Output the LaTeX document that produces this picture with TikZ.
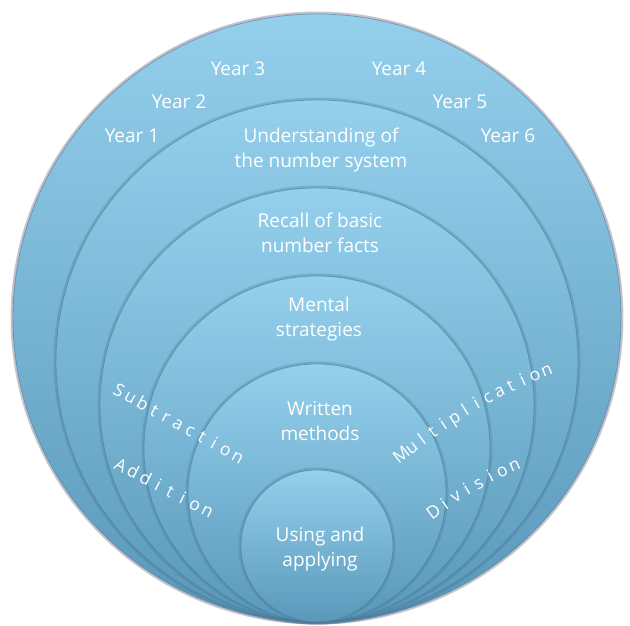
\documentclass[tikz,border=0pt]{standalone}
\usepackage{fontspec}
\setmainfont{Open Sans}
\usetikzlibrary{calc}

\definecolor{ringtop}{RGB}{148,208,236}
\definecolor{ringbot}{RGB}{90,152,186}
\definecolor{ringedge}{RGB}{70,118,148}

\begin{document}
\begin{tikzpicture}[x=1pt, y=1pt,
    ringtext/.style={text=white, align=center, font=\fontsize{19}{25}\selectfont},
    yeartext/.style={text=white, font=\fontsize{19}{25}\selectfont},
    arcletter/.style={text=white, inner sep=0pt, anchor=base, font=\fontsize{17.5}{17}\selectfont}]

    \useasboundingbox (0,0) rectangle (630,626);

    % Soft glow round the outer ring
    \draw[red!12, line width=4pt] (317,308) circle (304);

    % Nested rings, all touching at the bottom
    \foreach \r in {304,261,217,173,129,76} {
        \draw[ringedge, opacity=0.3, line width=3pt] (317,4+\r) circle (\r+1);
        \shade[top color=ringtop, bottom color=ringbot] (317,4+\r) circle (\r);
        \draw[ringedge, line width=0.8pt, opacity=0.55] (317,4+\r) circle (\r);
    }

    % Years in the outer ring
    \node[yeartext] (year1) at (132,490) {Year 1};
    \node[yeartext] (year2) at (179,524) {Year 2};
    \node[yeartext] (year3) at (238,557) {Year 3};
    \node[yeartext] (year4) at (399,557) {Year 4};
    \node[yeartext] (year5) at (460,524) {Year 5};
    \node[yeartext] (year6) at (508,490) {Year 6};

    % Ring titles
    \node[ringtext] (understanding) at (321,476) {Understanding of\\the number system};
    \node[ringtext] (recall) at (320,393) {Recall of basic\\number facts};
    \node[ringtext] (mental) at (319,307) {Mental\\strategies};
    \node[ringtext] (written) at (320,205) {Written\\methods};
    \node[ringtext] (using) at (320,77) {Using and\\applying};

    % Letter-spaced words on the left (straight)
    \coordinate (subA) at (116,230);
    \coordinate (subB) at (235,164);
    \foreach \ch [count=\i] in {S,u,b,t,r,a,c,t,i,o,n}
        \node[arcletter, rotate=-29] (sub\i) at ($(subA)!{(\i-1)/10}!(subB)$) {\ch};

    \coordinate (addA) at (118,155);
    \coordinate (addB) at (205,110);
    \foreach \ch [count=\i] in {A,d,d,i,t,i,o,n}
        \node[arcletter, rotate=-27] (add\i) at ($(addA)!{(\i-1)/7}!(addB)$) {\ch};

    % Letter-spaced words on the right (on wide arcs)
    \coordinate (mulC) at (760,-272);
    \foreach \ch [count=\i] in {M,u,l,t,i,p,l,i,c,a,t,i,o,n} {
        \pgfmathsetmacro{\a}{129-(\i-1)*17/13}
        \node[arcletter, rotate=\a-90] (mul\i) at ($(mulC)+(\a:564)$) {\ch};
    }

    \coordinate (divC) at (663,-190);
    \foreach \ch [count=\i] in {D,i,v,i,s,i,o,n} {
        \pgfmathsetmacro{\a}{127-(\i-1)*2}
        \node[arcletter, rotate=\a-90] (div\i) at ($(divC)+(\a:375)$) {\ch};
    }

\end{tikzpicture}
\end{document}
